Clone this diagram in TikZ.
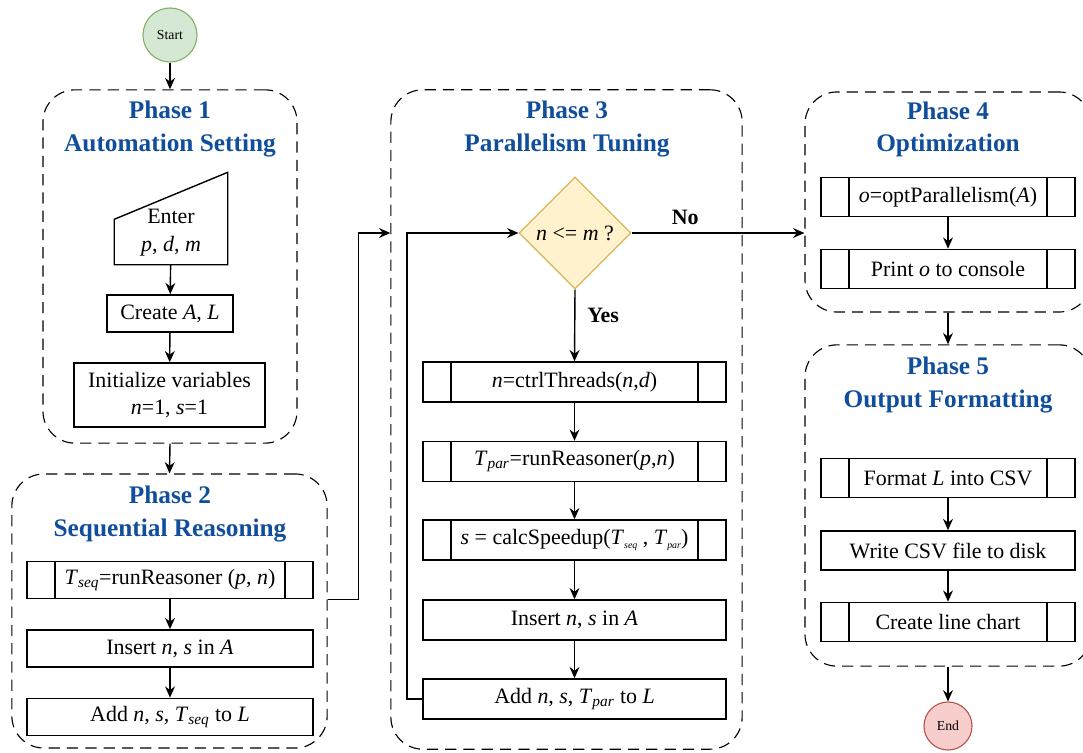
\documentclass[tikz,border=0pt]{standalone}
\usepackage{fontspec}
\setmainfont{Liberation Serif}
\usetikzlibrary{arrows.meta,positioning,calc,shapes.geometric}

\definecolor{phaseblue}{RGB}{16,78,156}
\definecolor{startfill}{HTML}{D5E8D4}
\definecolor{startdraw}{HTML}{82B366}
\definecolor{endfill}{HTML}{F8CECC}
\definecolor{enddraw}{HTML}{B85450}
\definecolor{decfill}{HTML}{FFF2CC}
\definecolor{decdraw}{HTML}{D6B656}

\newcommand{\mv}[1]{\textit{#1}}
\newcommand{\sub}[1]{\textsubscript{\textit{#1}}}
\newcommand{\ssub}[1]{\raisebox{-0.4ex}{\fontsize{7}{8}\selectfont\textit{#1}}}

\tikzset{
  phase/.style={draw,dash pattern=on 8pt off 5pt,rounded corners=0.8cm,line width=0.8pt},
  ttl/.style={font=\fontsize{18}{22.8}\selectfont\bfseries,text=phaseblue,align=center},
  proc/.style={draw,rectangle,line width=1pt,font=\fontsize{15.6}{19}\selectfont,align=center,inner sep=2pt},
  subproc/.style={proc,path picture={
      \draw[line width=1pt] ([xshift=20pt]path picture bounding box.north west) -- ([xshift=20pt]path picture bounding box.south west);
      \draw[line width=1pt] ([xshift=-20pt]path picture bounding box.north east) -- ([xshift=-20pt]path picture bounding box.south east);}},
  decis/.style={diamond,draw=decdraw,fill=decfill,line width=0.8pt,minimum width=2.8cm,minimum height=2.8cm,inner sep=0pt,font=\fontsize{15.6}{19}\selectfont},
  term/.style={circle,line width=0.8pt,font=\fontsize{9.8}{12}\selectfont},
  arr/.style={-{Stealth[length=8pt,width=7pt]},line width=1pt},
  lbl/.style={font=\fontsize{15.6}{19}\selectfont\bfseries}
}

\begin{document}
\begin{tikzpicture}[x=0.025cm,y=-0.025cm]
  \useasboundingbox (0,0) rectangle (1083,753);

  % Start
  \node[term,draw=startdraw,fill=startfill,minimum size=1.35cm] (start) at (170,35) {Start};

  % Phase 1
  \node[phase,minimum width=6.35cm,minimum height=8.83cm] (p1) at (170,266.5) {};
  \node[ttl] (t1) at (170,129) {Phase 1\\Automation Setting};
  \node[proc,draw=none,minimum width=2.8cm,minimum height=1.55cm,align=center,font=\fontsize{15.6}{20}\selectfont] (enter) at (171,233) {Enter\\\mv{p}, \mv{d}, \mv{m}};
  \draw[line width=1pt] (enter.south west) -- (enter.south east) -- ([yshift=20.6pt]enter.north east)
    -- ([yshift=-12.8pt]enter.north west) -- cycle;
  \node[proc,minimum width=3.15cm,minimum height=0.93cm] (create) at (170,313.5) {Create \mv{A}, \mv{L}};
  \node[proc,minimum width=4.78cm,minimum height=1.6cm] (init) at (169.5,395) {Initialize variables\\\mv{n}=1, \mv{s}=1};

  % Phase 2
  \node[phase,minimum width=7.88cm,minimum height=6.85cm] (p2) at (169.5,611) {};
  \node[ttl] (t2) at (170,514) {Phase 2\\Sequential Reasoning};
  \node[subproc,minimum width=7.15cm,minimum height=0.93cm] (tseq) at (170,580) {\mv{T}\sub{seq}=runReasoner (\mv{p}, \mv{n})};
  \node[proc,minimum width=7.15cm,minimum height=0.93cm] (ins2) at (170,648.5) {Insert \mv{n}, \mv{s} in \mv{A}};
  \node[proc,minimum width=7.15cm,minimum height=0.93cm] (add2) at (170,717) {Add \mv{n}, \mv{s}, \mv{T}\sub{seq} to \mv{L}};

  % Phase 3
  \node[phase,minimum width=8.78cm,minimum height=16.48cm] (p3) at (566.5,419.5) {};
  \node[ttl] (t3) at (567,129) {Phase 3\\Parallelism Tuning};
  \node[decis] (dec) at (575,233) {\mv{n} <= \mv{m} ?};
  \node[subproc,minimum width=7.58cm,minimum height=1.0cm] (ctrl) at (574.5,382) {\mv{n}=ctrlThreads(\mv{n},\mv{d})};
  \node[subproc,minimum width=7.58cm,minimum height=1.0cm] (tpar) at (574.5,461.5) {\mv{T}\sub{par}=runReasoner(\mv{p},\mv{n})};
  \node[subproc,minimum width=7.58cm,minimum height=1.0cm] (speed) at (574.5,540) {\mv{s} = calcSpeedup(\mv{T}\ssub{seq} , \mv{T}\ssub{par})};
  \node[proc,minimum width=7.58cm,minimum height=1.0cm] (ins3) at (574.5,620) {Insert \mv{n}, \mv{s} in \mv{A}};
  \node[proc,minimum width=7.58cm,minimum height=1.0cm] (add3) at (574.5,699) {Add \mv{n}, \mv{s}, \mv{T}\sub{par} to \mv{L}};

  % Phase 4
  \node[phase,minimum width=7.15cm,minimum height=5.5cm] (p4) at (948,202) {};
  \node[ttl] (t4) at (948,129) {Phase 4\\Optimization};
  \node[subproc,minimum width=6.35cm,minimum height=0.98cm] (opt) at (948,197) {\mv{o}=optParallelism(\mv{A})};
  \node[subproc,minimum width=6.35cm,minimum height=0.98cm] (print) at (948,269) {Print \mv{o} to console};

  % Phase 5
  \node[phase,minimum width=7.15cm,minimum height=8.03cm] (p5) at (948,505.5) {};
  \node[ttl] (t5) at (948,385) {Phase 5\\Output Formatting};
  \node[subproc,minimum width=6.35cm,minimum height=0.98cm] (fmt) at (948,478) {Format \mv{L} into CSV};
  \node[proc,minimum width=6.35cm,minimum height=0.98cm] (csv) at (948,550.5) {Write CSV file to disk};
  \node[subproc,minimum width=6.35cm,minimum height=0.98cm] (chart) at (948,622) {Create line chart};

  % End
  \node[term,draw=enddraw,fill=endfill,minimum size=1.2cm] (stop) at (948,726) {End};

  % Flow between phases
  \draw[arr] (start) -- (p1.north);
  \draw[arr] (p1.south) -- (p2.north);
  \draw[arr] (p2.east |- tseq.south) -- ++(31,0) |- (p3.west |- dec.west);
  \draw[arr] (dec.east) -- (p4.west |- dec.east) node[lbl,pos=0.31,above=2pt] {No};
  \draw[arr] (p4.south) -- (p5.north);
  \draw[arr] (p5.south) -- (stop.north);

  % Flow inside phases
  \draw[arr] (enter) -- (create);
  \draw[arr] (create) -- (init);
  \draw[arr] (tseq) -- (ins2);
  \draw[arr] (ins2) -- (add2);
  \draw[arr] (dec.south) -- (ctrl.north) node[lbl,pos=0.36,right=5pt] {Yes};
  \draw[arr] (ctrl) -- (tpar);
  \draw[arr] (tpar) -- (speed);
  \draw[arr] (speed) -- (ins3);
  \draw[arr] (ins3) -- (add3);
  \draw[arr] (add3.west) -- ++(-15,0) |- (dec.west);
  \draw[arr] (opt) -- (print);
  \draw[arr] (fmt) -- (csv);
  \draw[arr] (csv) -- (chart);
\end{tikzpicture}
\end{document}
